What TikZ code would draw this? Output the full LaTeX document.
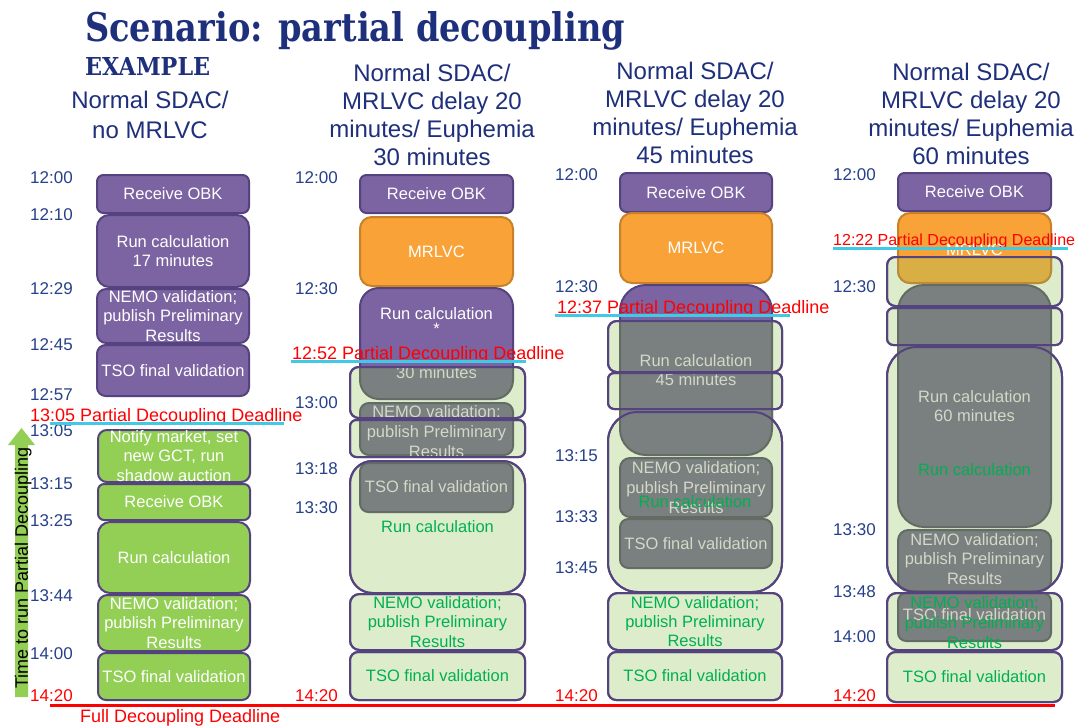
\documentclass[tikz,border=0pt]{standalone}
\usepackage{fontspec}
\usepackage{graphicx}
\setmainfont{Liberation Sans}
\newfontfamily\ttlfont{DejaVu Serif}
\newcommand\fsBox{\fontsize{16.5}{19.5}\selectfont}
\newcommand\fsTime{\fontsize{17}{20}\selectfont}
\newcommand\fsHead{\fontsize{24}{28}\selectfont}
\newcommand\fsHeadA{\fontsize{24}{30}\selectfont}
\newcommand\fsRed{\fontsize{18}{21}\selectfont}
\newcommand\fsRedS{\fontsize{16}{19}\selectfont}
\definecolor{ttl}{HTML}{1E2F7B}
\definecolor{navy}{HTML}{26418A}
\definecolor{pu}{HTML}{7B64A1}
\definecolor{pub}{HTML}{54437F}
\definecolor{orf}{HTML}{F9A237}
\definecolor{orb}{HTML}{C98128}
\definecolor{orm}{HTML}{D9AF45}
\definecolor{ormb}{HTML}{B98C37}
\definecolor{gra}{HTML}{92CF54}
\definecolor{lgr}{HTML}{DDEDCB}
\definecolor{gy}{HTML}{7A7F80}
\definecolor{gyb}{HTML}{636C64}
\definecolor{gyt}{HTML}{D3D9C7}
\definecolor{gtx}{HTML}{00B050}
\definecolor{cyn}{HTML}{3FCBE5}
\definecolor{rd}{HTML}{FF0000}
\newcommand\bx[7]{%
 \pgfmathsetmacro\bxW{#5-#3}%
 \pgfmathsetmacro\bxH{#6-#4}%
 \pgfmathsetmacro\bxR{0.17*min(\bxW,\bxH)}%
 \node[#2, minimum width=\bxW pt, minimum height=\bxH pt, rounded corners=\bxR pt] (#1) at ({(#3+#5)/2},{(#4+#6)/2}) {#7};}
\tikzset{
 boxbase/.style={line width=2pt, inner sep=0pt, align=center, font=\fsBox},
 pbox/.style={boxbase, fill=pu, draw=pub, text=white},
 obox/.style={boxbase, fill=orf, draw=orb, text=white},
 mbox/.style={boxbase, fill=orm, draw=ormb, text=white},
 gbox/.style={boxbase, fill=gra, draw=pub, text=white},
 lbox/.style={boxbase, fill=lgr, draw=pub},
 ybox/.style={boxbase, fill=gy, draw=gyb},
 gline/.style={boxbase, draw=pub},
 bt/.style={inner sep=0pt, font=\fsBox, text height=11.8pt, text depth=0pt},
 btw/.style={bt, text=white},
 bty/.style={bt, text=gyt},
 btg/.style={bt, text=gtx},
 tm/.style={anchor=west, inner sep=0pt, font=\fsTime, text=navy, text height=12.2pt, text depth=0pt},
 tmr/.style={tm, text=rd},
 dl/.style={anchor=west, inner sep=0pt, font=\fsRed, text=rd, text height=12.9pt, text depth=0pt},
 hd/.style={inner sep=0pt, align=center, font=\fsHead, text=ttl},
 cyline/.style={draw=cyn, line width=3pt},
}
\begin{document}
\begin{tikzpicture}[x=1pt,y=-1pt]
\useasboundingbox (0,0) rectangle (1078,726);
\fill[white] (0,0) rectangle (1078,726);
% titles
\node[anchor=base west, inner sep=0pt, text=ttl] (title) at (85,41) {\resizebox{540pt}{30pt}{\ttlfont\bfseries Scenario: partial decoupling}};
\node[anchor=base west, inner sep=0pt, text=ttl] (example) at (85,75) {\resizebox{125pt}{18pt}{\ttlfont\bfseries EXAMPLE}};
\node[hd, font=\fsHeadA] (h1) at (150,115) {Normal SDAC/\\no MRLVC};
\node[hd] (h2) at (432,115) {Normal SDAC/\\MRLVC delay 20\\minutes/ Euphemia\\30 minutes};
\node[hd] (h3) at (695,113) {Normal SDAC/\\MRLVC delay 20\\minutes/ Euphemia\\45 minutes};
\node[hd] (h4) at (971,114) {Normal SDAC/\\MRLVC delay 20\\minutes/ Euphemia\\60 minutes};

% ---------------- column 1
\bx{c1a}{pbox}{97}{175}{249}{213}{Receive OBK}
\bx{c1b}{pbox}{97}{215}{249}{287}{Run calculation\\17 minutes}
\bx{c1c}{pbox}{97}{289}{249}{343}{NEMO validation;\\publish Preliminary\\Results}
\bx{c1d}{pbox}{97}{345}{249}{396}{TSO final validation}
\bx{c1e}{gbox}{98}{430}{250}{482}{Notify market, set\\new GCT, run\\shadow auction}
\bx{c1f}{gbox}{98}{484}{250}{520}{Receive OBK}
\bx{c1g}{gbox}{98}{522}{250}{593}{Run calculation}
\bx{c1h}{gbox}{98}{595}{250}{651}{NEMO validation;\\publish Preliminary\\Results}
\bx{c1i}{gbox}{98}{653}{250}{700}{TSO final validation}
\node[tm] (t1a) at (30,177) {12:00};
\node[tm] (t1b) at (30,214) {12:10};
\node[tm] (t1c) at (30,288) {12:29};
\node[tm] (t1d) at (30,344) {12:45};
\node[tm] (t1e) at (30,394) {12:57};
\node[tm] (t1f) at (30,430) {13:05};
\node[tm] (t1g) at (30,483) {13:15};
\node[tm] (t1h) at (30,520) {13:25};
\node[tm] (t1i) at (30,595) {13:44};
\node[tm] (t1j) at (30,653) {14:00};
\node[tmr] (t1k) at (30,695) {14:20};

% ---------------- column 2
\bx{c2a}{pbox}{360}{175}{513}{213}{Receive OBK}
\bx{c2b}{obox}{360}{217}{513}{286}{MRLVC}
\bx{c2c}{pbox}{360}{288}{513}{399}{}
\bx{c2gA}{lbox}{350}{367}{525}{418}{}
\bx{c2gB}{lbox}{350}{420}{525}{457}{}
\bx{c2gC}{lbox}{350}{461}{525}{593}{}
\bx{c2gD}{lbox}{350}{594}{525}{650}{}
\bx{c2gE}{lbox}{350}{652}{525}{700}{}
\begin{scope}
\clip (300,367) rectangle (560,430);
\bx{c2cy}{ybox}{360}{288}{513}{399}{}
\end{scope}
\bx{c2n}{ybox}{360}{403}{513}{455}{}
\bx{c2t}{ybox}{360}{463}{513}{512}{}
\node[btw] (c2x1) at (436.5,314) {Run calculation};
\node[btw] (c2x2) at (436.5,329) {*};
\node[bty] (c2y1) at (436.5,373) {30 minutes};
\node[bty] (c2y2) at (436.5,412) {NEMO validation;};
\node[bty] (c2y3) at (436.5,432) {publish Preliminary};
\node[bty] (c2y4) at (436.5,452) {Results};
\node[bty] (c2y5) at (436.5,487) {TSO final validation};
\bx{c2oA}{gline}{350}{367}{525}{418}{}
\bx{c2oB}{gline}{350}{420}{525}{457}{}
\bx{c2oC}{gline}{350}{461}{525}{593}{}
\bx{c2oD}{gline}{350}{594}{525}{650}{}
\bx{c2oE}{gline}{350}{652}{525}{700}{}
\node[btg] (c2g1) at (437.5,527) {Run calculation};
\node[btg] (c2g2) at (437.5,603) {NEMO validation;};
\node[btg] (c2g3) at (437.5,622) {publish Preliminary};
\node[btg] (c2g4) at (437.5,642) {Results};
\node[btg] (c2g5) at (437.5,676) {TSO final validation};
\node[tm] (t2a) at (295,177) {12:00};
\node[tm] (t2b) at (295,288) {12:30};
\node[tm] (t2c) at (295,402) {13:00};
\node[tm] (t2d) at (295,468) {13:18};
\node[tm] (t2e) at (295,507) {13:30};
\node[tmr] (t2f) at (295,695) {14:20};

% ---------------- column 3
\bx{c3a}{pbox}{620}{173}{772}{212}{Receive OBK}
\bx{c3b}{obox}{620}{213}{772}{283}{MRLVC}
\bx{c3c}{pbox}{620}{285}{772}{455}{}
\bx{c3gA}{lbox}{608}{321}{782}{372}{}
\bx{c3gB}{lbox}{608}{373}{782}{409}{}
\bx{c3gC}{lbox}{608}{412}{782}{592}{}
\bx{c3gD}{lbox}{608}{593}{782}{650}{}
\bx{c3gE}{lbox}{608}{652}{782}{700}{}
\begin{scope}
\clip (590,321) rectangle (800,470);
\bx{c3cy}{ybox}{620}{285}{772}{455}{}
\end{scope}
\bx{c3n}{ybox}{620}{458}{772}{517}{}
\bx{c3t}{ybox}{620}{519}{772}{568}{}
\node[bty] (c3y1) at (696,361) {Run calculation};
\node[bty] (c3y2) at (696,380) {45 minutes};
\node[bty] (c3y3) at (696,468) {NEMO validation;};
\node[bty] (c3y4) at (696,488) {publish Preliminary};
\node[bty] (c3y5) at (696,508) {Results};
\node[bty] (c3y6) at (696,544) {TSO final validation};
\bx{c3oA}{gline}{608}{321}{782}{372}{}
\bx{c3oB}{gline}{608}{373}{782}{409}{}
\bx{c3oC}{gline}{608}{412}{782}{592}{}
\bx{c3oD}{gline}{608}{593}{782}{650}{}
\bx{c3oE}{gline}{608}{652}{782}{700}{}
\node[btg] (c3g1) at (695,502) {Run calculation};
\node[btg] (c3g2) at (695,603) {NEMO validation;};
\node[btg] (c3g3) at (695,622) {publish Preliminary};
\node[btg] (c3g4) at (695,641) {Results};
\node[btg] (c3g5) at (695,676) {TSO final validation};
\node[tm] (t3a) at (555,174) {12:00};
\node[tm] (t3b) at (555,286) {12:30};
\node[tm] (t3c) at (555,455) {13:15};
\node[tm] (t3d) at (555,516) {13:33};
\node[tm] (t3e) at (555,567) {13:45};
\node[tmr] (t3f) at (555,695) {14:20};

% ---------------- column 4
\bx{c4a}{pbox}{898}{173}{1051}{211}{Receive OBK}
\bx{c4gA}{lbox}{887}{257}{1062}{306}{}
\bx{c4gB}{lbox}{887}{308}{1062}{345}{}
\bx{c4gC}{lbox}{887}{347}{1062}{592}{}
\bx{c4gD}{lbox}{887}{593}{1062}{650}{}
\bx{c4gE}{lbox}{887}{652}{1062}{702}{}
\bx{c4b}{obox}{898}{213}{1051}{283}{}
\begin{scope}
\clip (870,257) rectangle (1070,300);
\bx{c4bm}{mbox}{898}{213}{1051}{283}{}
\end{scope}
\node[btw] (c4x1) at (974.5,250) {MRLVC};
\bx{c4c}{ybox}{898}{285}{1051}{527}{}
\bx{c4n}{ybox}{898}{530}{1051}{591}{}
\bx{c4t}{ybox}{898}{593}{1051}{641}{}
\node[bty] (c4y1) at (974.5,397) {Run calculation};
\node[bty] (c4y2) at (974.5,416) {60 minutes};
\node[bty] (c4y3) at (974.5,540) {NEMO validation;};
\node[bty] (c4y4) at (974.5,559) {publish Preliminary};
\node[bty] (c4y5) at (974.5,579) {Results};
\node[bty] (c4y6) at (974.5,615) {TSO final validation};
\bx{c4oA}{gline}{887}{257}{1062}{306}{}
\bx{c4oB}{gline}{887}{308}{1062}{345}{}
\bx{c4oC}{gline}{887}{347}{1062}{592}{}
\bx{c4oD}{gline}{887}{593}{1062}{650}{}
\bx{c4oE}{gline}{887}{652}{1062}{702}{}
\node[btg] (c4g1) at (974.5,470) {Run calculation};
\node[btg] (c4g2) at (974.5,603) {NEMO validation;};
\node[btg] (c4g3) at (974.5,623) {publish Preliminary};
\node[btg] (c4g4) at (974.5,643) {Results};
\node[btg] (c4g5) at (974.5,677) {TSO final validation};
\node[tm] (t4a) at (833,174) {12:00};
\node[tm] (t4b) at (833,286) {12:30};
\node[tm] (t4c) at (833,529) {13:30};
\node[tm] (t4d) at (833,591) {13:48};
\node[tm] (t4e) at (833,636) {14:00};
\node[tmr] (t4f) at (833,695) {14:20};

% ---------------- deadlines
\node[dl] (d1) at (30,415) {13:05 Partial Decoupling Deadline};
\draw[cyline] (50,423) -- (284,423);
\node[dl] (d2) at (292,353) {12:52 Partial Decoupling Deadline};
\draw[cyline] (291,361) -- (526,361);
\node[dl] (d3) at (557,307) {12:37 Partial Decoupling Deadline};
\draw[cyline] (555,315) -- (790,315);
\node[dl, font=\fsRedS, text height=11.5pt] (d4) at (833,240) {12:22 Partial Decoupling Deadline};
\draw[cyline] (833,248) -- (1068,248);

\draw[draw=rd, line width=3pt] (50,705) -- (1055,705);
\node[dl, text height=12.9pt] (full) at (80,716) {Full Decoupling Deadline};

% arrow
\fill[gra] (15,697) -- (15,445) -- (8,445) -- (21.5,428) -- (35,445) -- (28,445) -- (28,697) -- cycle;
\node[rotate=90, inner sep=0pt, font=\fsRed, text height=12.9pt, text depth=0pt] (arrowtxt) at (21.5,568) {Time to run Partial Decoupling};
\end{tikzpicture}
\end{document}
